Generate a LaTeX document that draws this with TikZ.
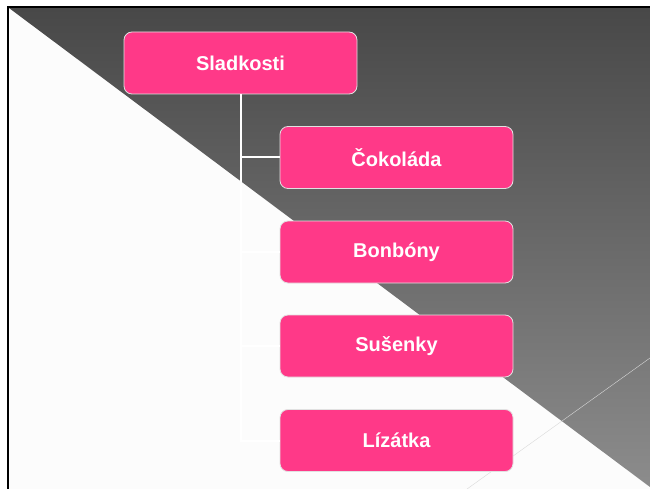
\documentclass[tikz,border=0pt]{standalone}
\usepackage{fontspec}
\setmainfont{Liberation Sans}
\usetikzlibrary{shapes}

\definecolor{candy}{RGB}{255,57,136}
\definecolor{boxline}{RGB}{225,225,225}
\definecolor{darktop}{RGB}{72,72,72}
\definecolor{darkmid}{RGB}{90,90,90}
\definecolor{darkbot}{RGB}{140,140,140}

\tikzset{
  item/.style={rectangle, rounded corners=8pt, draw=boxline, line width=0.8pt,
               fill=candy, text=white, minimum width=233pt, minimum height=62pt,
               font=\fontsize{20}{24}\selectfont\bfseries},
  link/.style={draw=white, line width=2pt}
}

\begin{document}
\begin{tikzpicture}[x=1pt, y=-1pt]
\useasboundingbox (0,0) rectangle (650,489);
\fill[white] (0,0) rectangle (650,489);

% background: dark wedge over a light one
\fill[white!99!black] (9,8) rectangle (650,489);
\shade[top color=darktop, middle color=darkmid, bottom color=darkbot]
  (9,8) -- (650,8) -- (650,487) -- cycle;
\draw[black!15, line width=0.4pt] (467,489) -- (650,358);
\draw[line width=2.3pt] (8,489) -- (8,7) -- (650,7);

\node[item] (A) at (240.5,63)   {Sladkosti};
\node[item] (B) at (396.5,157.5) {Čokoláda};
\node[item] (C) at (396.5,252)   {Bonbóny};
\node[item] (D) at (396.5,346)   {Sušenky};
\node[item] (E) at (396.5,440.5) {Lízátka};

\foreach \n in {B,C,D,E}
  \draw[link] (A.south) |- (\n.west);
\end{tikzpicture}
\end{document}
